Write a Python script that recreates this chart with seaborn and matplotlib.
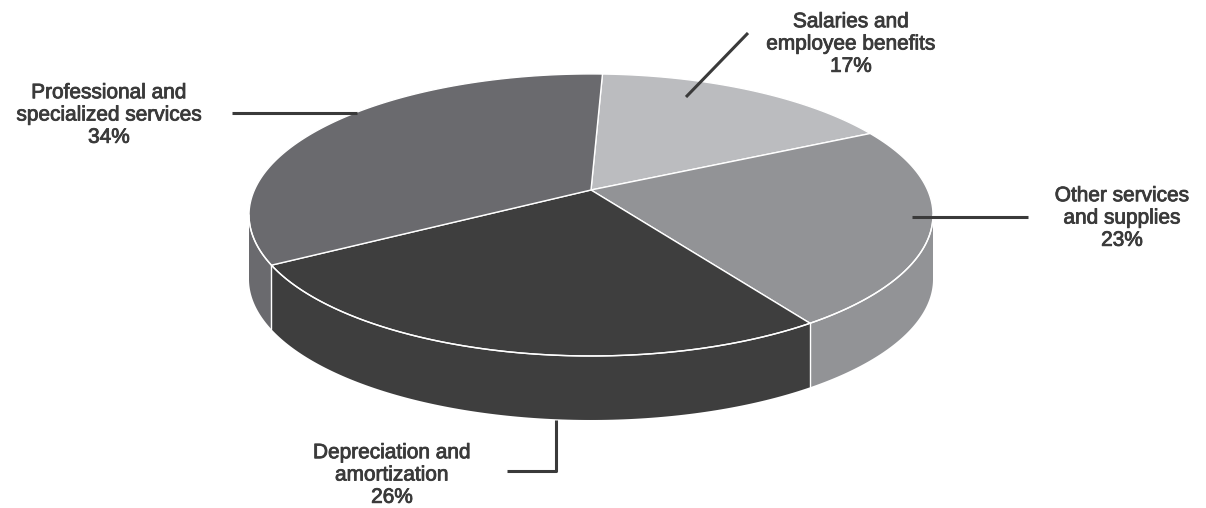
"""3D-style expense pie chart (perspective disc with extruded side)."""

import numpy as np
import matplotlib.pyplot as plt
import matplotlib.patheffects as pe
import seaborn as sns
from matplotlib.patches import Polygon

# Data, clockwise from the top of the pie
categories = [
    "Salaries and\nemployee benefits",
    "Other services\nand supplies",
    "Depreciation and\namortization",
    "Professional and\nspecialized services",
]
shares = [17, 23, 26, 34]
colors = ["#bbbcbf", "#929396", "#3e3e3e", "#6a6a6e"]

# Layout (pixel coordinates of an inverted-y axes covering the figure)
CX, CY = 591, 190          # apex of the pie
SX, SY = 336.6, 136.6      # projected radii
P = 0.177                  # perspective strength
DEPTH = 64                 # extrusion height
START = 87.7               # start angle (deg), slices run clockwise
label_xy = [(851, 44), (1122, 218), (392, 475), (109, 115)]
leaders = [
    [(748, 33), (686, 97)],
    [(1028, 217), (912, 217)],
    [(507, 471), (556, 471), (556, 420)],
    [(232, 113), (357, 113)],
]
TEXT = "#3a3a3a"

sns.set_theme(style="white")
plt.rcParams["font.family"] = ["Liberation Sans", "DejaVu Sans"]


def project(theta_deg, r=1.0):
    t = np.radians(theta_deg)
    d = 1 + P * r * np.sin(t)
    x = CX + SX * r * np.cos(t) / d
    y = CY - SY * r * np.sin(t) / d
    return x, y


fig = plt.figure(figsize=(12.06, 5.08), dpi=100)
ax = fig.add_axes([0, 0, 1, 1])
ax.set_xlim(0, 1206)
ax.set_ylim(508, 0)
ax.axis("off")

# slice angle ranges (clockwise => decreasing angle)
fracs = np.array(shares, dtype=float) / sum(shares)
bounds = START - 360 * np.concatenate([[0], np.cumsum(fracs)])

# front half of the rim (where the tangent is vertical: sin = -P)
edge = np.degrees(np.arcsin(P))
front_lo, front_hi = -180 + edge, -edge

# side walls
for i, col in enumerate(colors):
    hi, lo = bounds[i], bounds[i + 1]
    for shift in (0, -360, 360):
        a = max(lo + shift, front_lo)
        b = min(hi + shift, front_hi)
        if b <= a:
            continue
        th = np.linspace(a, b, 120)
        x, y = project(th)
        xs = np.concatenate([x, x[::-1]])
        ys = np.concatenate([y, y[::-1] + DEPTH])
        ax.add_patch(Polygon(np.column_stack([xs, ys]), closed=True,
                             facecolor=col, edgecolor="none", zorder=1))

# vertical white separators on the side
for b in bounds[1:-1]:
    for shift in (0, -360, 360):
        th = b + shift
        if front_lo < th < front_hi:
            x, y = project(th)
            ax.plot([x, x], [y, y + DEPTH], color="white", lw=1.0, zorder=2)

# top faces
for i, col in enumerate(colors):
    th = np.linspace(bounds[i], bounds[i + 1], 200)
    x, y = project(th)
    xs = np.concatenate([[CX], x])
    ys = np.concatenate([[CY], y])
    ax.add_patch(Polygon(np.column_stack([xs, ys]), closed=True,
                         facecolor=col, edgecolor="white", lw=1.0,
                         joinstyle="miter", zorder=3))

# white rim on the front edge
th = np.linspace(front_lo, front_hi, 300)
x, y = project(th)
ax.plot(x, y, color="white", lw=1.0, zorder=4)

# leader lines and labels
medium = [pe.withStroke(linewidth=0.6, foreground=TEXT)]
for (name, pct), (lx, ly), pts in zip(zip(categories, shares), label_xy, leaders):
    px, py = zip(*pts)
    ax.plot(px, py, color=TEXT, lw=2.2, solid_capstyle="butt", zorder=5)
    ax.text(lx, ly, f"{name}\n{pct}%", ha="center", va="center",
            fontsize=15.0, color=TEXT, linespacing=1.22,
            path_effects=medium, zorder=6)

fig.savefig("out.png", dpi=100, facecolor="white")
